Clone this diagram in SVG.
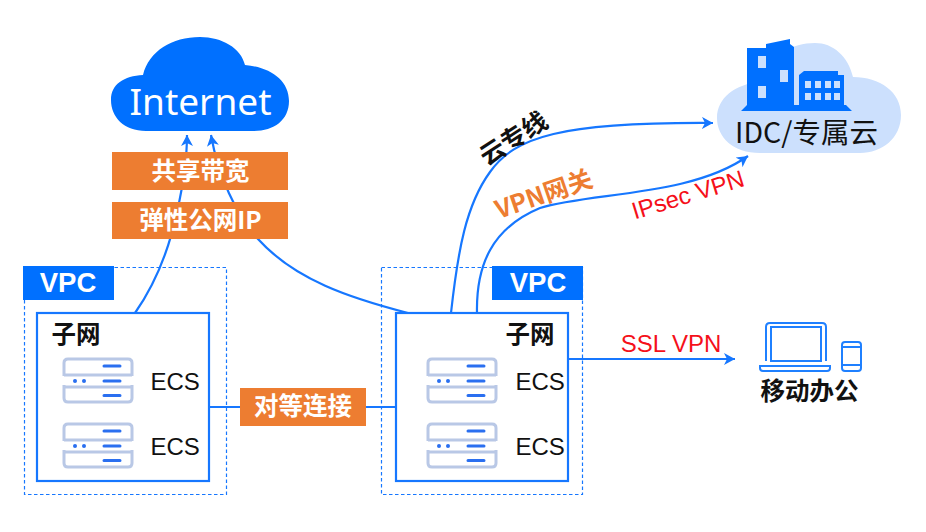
<svg xmlns="http://www.w3.org/2000/svg" xmlns:xlink="http://www.w3.org/1999/xlink" width="926" height="532" viewBox="0 0 926 532">
  <style>
    .zone { fill: none; stroke: #1677ff; stroke-width: 1.2; stroke-dasharray: 3.5 2.5; }
    .tag { fill: #0070ff; }
    .subnet { fill: #fff; stroke: #1677ff; stroke-width: 2.2; }
    .band { fill: #ed7d31; }
    .link { fill: none; stroke: #1677ff; stroke-width: 2.2; }
    .sans { font-family: "Liberation Sans", "Noto Sans CJK SC", sans-serif; }
    .cjk { font-family: "Noto Sans CJK SC", "Liberation Sans", sans-serif; }
    .bandtext { font-size: 24.5px; font-weight: 700; fill: #fff; text-anchor: middle; }
    .vpc { font-size: 27.500px; font-weight: 700; fill: #fff; text-anchor: middle; }
    .title { font-size: 24.5px; font-weight: 700; fill: #111; text-anchor: middle; }
    .ecs { font-size: 24px; fill: #111; }
    .red { font-size: 24px; fill: #f5101a; text-anchor: middle; }
    .line { fill: none; stroke: #b9c8e6; stroke-width: 3; }
    .bar { fill: none; stroke: #2a6ff0; stroke-width: 3; stroke-linecap: round; }
    .device { fill: none; stroke: #1f80ff; stroke-width: 2; }
  </style>
  <defs>
    <marker id="arrow" markerUnits="userSpaceOnUse" markerWidth="14" markerHeight="14" refX="11" refY="6" orient="auto">
      <path d="M0 0 L11 6 L0 12 L3 6 Z" fill="#1677ff"/>
    </marker>
    <g id="server">
      <path class="line" d="M2 19 V6 Q2 2 6 2 H66 Q70 2 70 6 V19 M2 18 H70"/>
      <path class="line" d="M2 28 V41 Q2 45 6 45 H66 Q70 45 70 41 V28 M2 30 H70"/>
      <path class="bar" d="M42 9 H58 M42 24 H58 M42 38.500 H58"/>
      <circle cx="13" cy="24" r="2" fill="#2a6ff0"/>
      <circle cx="22" cy="24" r="2" fill="#2a6ff0"/>
    </g>
  </defs>

  <rect width="926" height="532" fill="#fff"/>

  <g id="vpc-left">
    <rect class="zone" x="24.500" y="267.500" width="202" height="227"/>
    <rect class="tag" x="23" y="266" width="91" height="34"/>
    <text class="vpc sans" x="68" y="292">VPC</text>
  </g>
  <g id="vpc-right">
    <rect class="zone" x="381.500" y="267.500" width="201" height="227"/>
    <rect class="tag" x="492" y="266" width="91" height="34"/>
    <text class="vpc sans" x="538" y="292">VPC</text>
  </g>

  <g id="connectors">
    <path class="link" marker-end="url(#arrow)" d="M135 313 C156 283 170 245 177 212 C182 190 187 165 187 135"/>
    <path class="link" marker-end="url(#arrow)" d="M408 313 C350 298 295 280 258 239 C236 215 218 175 211 135"/>
    <path class="link" marker-end="url(#arrow)" d="M451 313 C458 250 466 205 490 172 C515 137 560 122 713 123"/>
    <path class="link" marker-end="url(#arrow)" d="M477 313 C476 265 492 228 540 208 C590 192 690 197 748 156"/>
    <path class="link" d="M209 407 H396"/>
    <path class="link" marker-end="url(#arrow)" d="M568 359 H735"/>
  </g>

  <g id="internet">
    <path fill="#0070ff" d="M146 131 C124 131 111 117 111 100 C111 84 124 76 143 75 C149 51 172 37 200 37 C222 37 241 48 245 65 C270 67 289 80 289 101 C289 120 274 131 254 131 Z"/>
    <text x="200.500" y="115" font-size="37" fill="#fff" text-anchor="middle" font-family="Noto Sans, sans-serif">Internet</text>
  </g>

  <g id="shared-bandwidth">
    <rect class="band" x="112" y="152" width="176" height="38"/>
    <text class="bandtext cjk" x="200.500" y="180">共享带宽</text>
  </g>
  <g id="elastic-ip">
    <rect class="band" x="112" y="202" width="176" height="37"/>
    <text class="bandtext cjk" x="200.500" y="229">弹性公网IP</text>
  </g>

  <g id="idc">
    <path fill="#cce0fd" d="M760 153 C733 153 717 137 717 118 C717 98 735 84 760 82 C768 58 790 43 815 43 C833 43 848 56 853 77 C880 77 901 92 901 115 C901 138 882 153 860 153 Z"/>
    <path fill="#0070ff" d="M741 111 L747 105 V48 H766 V44 L790 39 V44 L794 47 V105 H799 V75 L804 71 H838 V75 H844 V105 H846 L852 111 Z"/>
    <g fill="#cce0fd">
      <rect x="758" y="56" width="8" height="12"/>
      <rect x="780" y="70" width="8" height="12"/>
      <rect x="758" y="86" width="8" height="12"/>
      <rect x="805" y="81" width="6" height="7"/><rect x="815" y="81" width="6" height="7"/><rect x="825" y="81" width="6" height="7"/><rect x="834" y="81" width="6" height="7"/>
      <rect x="805" y="93" width="6" height="7"/><rect x="815" y="93" width="6" height="7"/><rect x="825" y="93" width="6" height="7"/><rect x="834" y="93" width="6" height="7"/>
    </g>
    <text class="cjk" x="806.500" y="143" font-size="28.500" fill="#111" text-anchor="middle">IDC/专属云</text>
  </g>

  <g id="subnet-left">
    <rect class="subnet" x="37" y="313" width="172" height="168"/>
    <text class="title cjk" x="76" y="343">子网</text>
    <use xlink:href="#server" href="#server" x="62" y="357"/>
    <use xlink:href="#server" href="#server" x="62" y="422"/>
    <text class="ecs sans" x="150.500" y="390">ECS</text>
    <text class="ecs sans" x="150.500" y="455">ECS</text>
  </g>
  <g id="subnet-right">
    <rect class="subnet" x="396" y="313" width="172" height="168"/>
    <text class="title cjk" x="530" y="343">子网</text>
    <use xlink:href="#server" href="#server" x="426" y="357"/>
    <use xlink:href="#server" href="#server" x="426" y="422"/>
    <text class="ecs sans" x="515.500" y="390">ECS</text>
    <text class="ecs sans" x="515.500" y="455">ECS</text>
  </g>

  <g id="peering">
    <rect class="band" x="240" y="388" width="126" height="38"/>
    <text class="bandtext cjk" x="303" y="415">对等连接</text>
  </g>

  <g id="mobile-office">
    <path class="device" d="M766 361 V327 Q766 323 770 323 H822 Q826 323 826 327 V361"/>
    <rect class="device" x="771" y="327" width="50" height="34" stroke-width="1.500"/>
    <path class="device" d="M760 366 H830 V368 Q830 371 827 371 H763 Q760 371 760 368 Z"/>
    <rect class="device" x="842" y="342" width="19" height="29" rx="3"/>
    <path class="device" stroke-width="1.500" d="M842 347 H861 M842 365 H861"/>
    <text class="title cjk" x="809.500" y="400">移动办公</text>
  </g>

  <g id="link-labels">
    <text class="cjk" transform="translate(514 139) rotate(-33)" y="8" font-size="25" font-weight="700" fill="#111" text-anchor="middle">云专线</text>
    <text class="cjk" transform="translate(544 195) rotate(-19)" y="8" font-size="25" font-weight="700" fill="#ed7d31" text-anchor="middle">VPN网关</text>
    <text class="red sans" transform="translate(688 195) rotate(-17)" y="8">IPsec VPN</text>
    <text class="red sans" x="671" y="352">SSL VPN</text>
  </g>
</svg>
